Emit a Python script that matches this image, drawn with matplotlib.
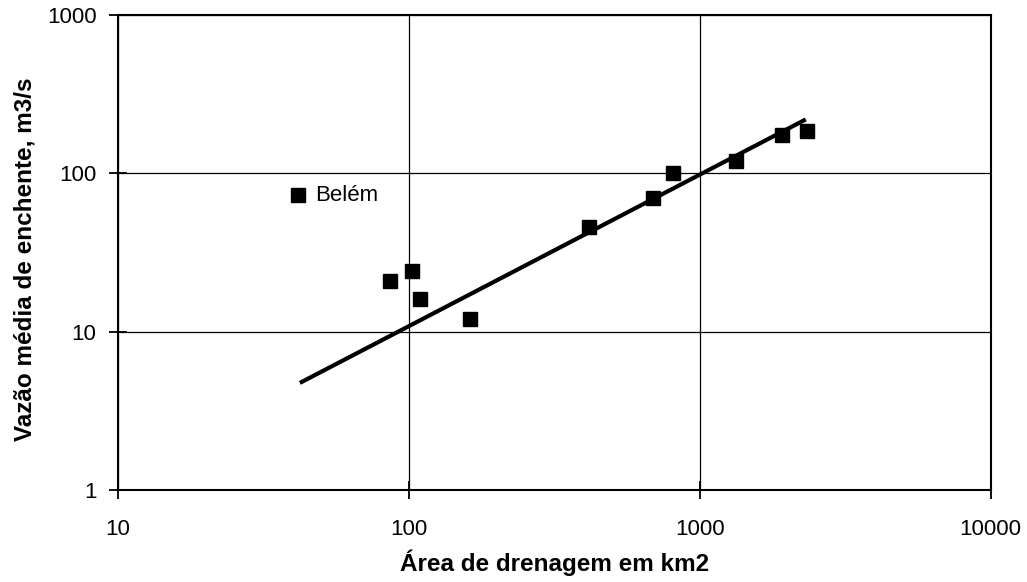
import matplotlib
matplotlib.use('Agg')
import matplotlib.pyplot as plt
from matplotlib.ticker import FixedLocator, FixedFormatter, NullLocator

plt.rcParams['font.family'] = ['Liberation Sans', 'DejaVu Sans']

# postos fluviométricos: área de drenagem (km2) x vazão média de enchente (m3/s)
area = [41.7, 86.2, 102.4, 109.4, 162, 414.6, 688, 809, 1330, 1913, 2327]
vazao = [72.9, 20.9, 24.1, 16.0, 11.96, 45.6, 69.5, 100, 120, 174.6, 185]

# reta de regressão (extremos)
reta_area = [42.2, 2312]
reta_vazao = [4.75, 219]

x_ticks = [10, 100, 1000, 10000]
y_ticks = [1, 10, 100, 1000]

fig = plt.figure(figsize=(10.27, 5.82), dpi=100)
ax = fig.add_axes([0.1149, 0.158, 0.8498, 0.8162])

ax.set_xscale('log')
ax.set_yscale('log')
ax.set_xlim(10, 10000)
ax.set_ylim(1, 1000)

ax.plot(reta_area, reta_vazao, color='black', lw=3, solid_capstyle='butt', zorder=3)
ax.plot(area, vazao, linestyle='none', marker='s', markersize=9.5,
        color='black', zorder=4)

ax.annotate('Belém', (area[0], vazao[0]), xytext=(12, 0),
            textcoords='offset points', va='center', ha='left', fontsize=16)

for axis, ticks in ((ax.xaxis, x_ticks), (ax.yaxis, y_ticks)):
    axis.set_major_locator(FixedLocator(ticks))
    axis.set_major_formatter(FixedFormatter([str(t) for t in ticks]))
    axis.set_minor_locator(NullLocator())

ax.tick_params(axis='both', direction='inout', length=13, width=1.3,
               labelsize=16, colors='black')
ax.tick_params(axis='x', pad=14)
ax.tick_params(axis='y', pad=9)

ax.grid(True, which='major', color='black', lw=0.9)
for s in ax.spines.values():
    s.set_linewidth(1.5)

ax.set_xlabel('Área de drenagem em km2', fontsize=17.5, fontweight='bold', labelpad=7)
ax.set_ylabel('Vazão média de enchente, m3/s', fontsize=17.5, fontweight='bold')
ax.yaxis.set_label_coords(-0.093, 0.486)

fig.savefig('out.png', dpi=100, facecolor='white')
